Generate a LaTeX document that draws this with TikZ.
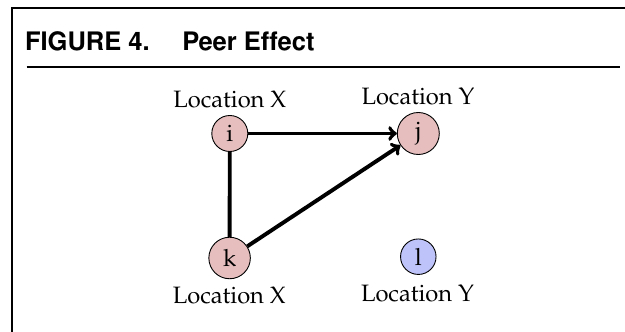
\documentclass[tikz,border=0pt]{standalone}
\usepackage[T1]{fontenc}
\definecolor{pinkfill}{RGB}{230,190,190}
\definecolor{bluefill}{RGB}{190,195,250}
\newcommand\palfont{\fontencoding{T1}\fontfamily{ppl}\fontseries{m}\fontshape{n}\fontsize{23.7}{28}\selectfont}
\newcommand\titfont{\fontencoding{T1}\fontfamily{phv}\fontseries{b}\fontshape{n}\fontsize{25.5}{30}\selectfont}
\begin{document}
\begin{tikzpicture}[x=1pt,y=-1pt,
  person/.style={circle,draw,line width=0.9pt,inner sep=0pt,font=\palfont},
  lbl/.style={font=\palfont,inner sep=0pt,anchor=base},
  edge/.style={line width=3.9pt},
  frameline/.style={line width=2pt}]
\useasboundingbox (0,0) rectangle (625,332);
\draw[frameline] (12.2,332) -- (12.2,7.9) -- (625,7.9);
\draw[frameline] (26.7,67) -- (620,67);
\node[anchor=base west, inner sep=0pt, font=\titfont] (title) at (24.8,50) {FIGURE 4.\hspace{32.6pt}Peer Effect};
\node[person, fill=pinkfill, minimum size=36pt] (i) at (229.8,133.5) {i};
\node[person, fill=pinkfill, minimum size=42pt] (j) at (418.3,133.5) {j};
\node[person, fill=pinkfill, minimum size=41.5pt] (k) at (229.6,258) {k};
\node[person, fill=bluefill, minimum size=35.5pt] (l) at (418.3,256.7) {l};
\node[lbl] (lx1) at (229.8,107) {Location X};
\node[lbl] (ly1) at (418,104) {Location Y};
\node[lbl] (lx2) at (229.3,303.5) {Location X};
\node[lbl] (ly2) at (417.5,301.5) {Location Y};
\draw[edge,->] (i) -- (j);
\draw[edge] (i) -- (k);
\draw[edge,->] (k) -- (j);
\end{tikzpicture}
\end{document}
